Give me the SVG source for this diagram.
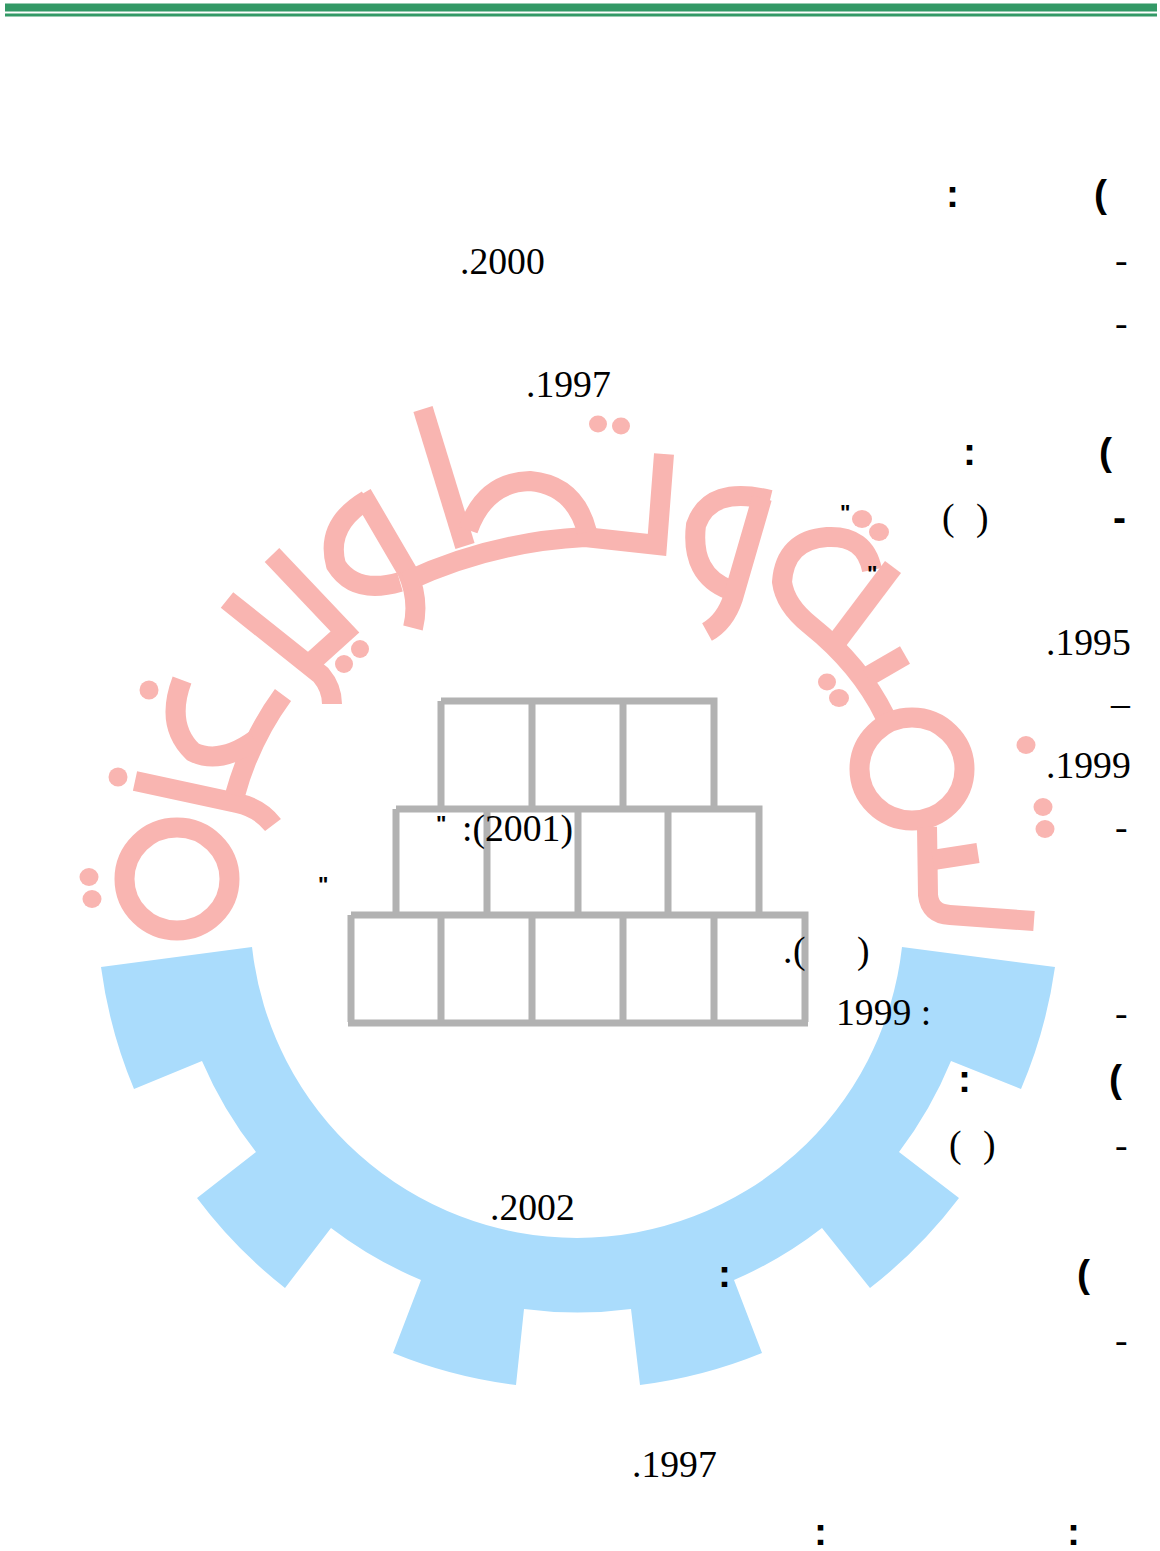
<svg xmlns="http://www.w3.org/2000/svg" width="1160" height="1551" viewBox="0 0 1160 1551">
<style>
text{font-family:"Liberation Serif","Times New Roman",serif;font-size:37.7px;fill:#000}
.b{font-family:"Liberation Sans",Arial,sans-serif;font-weight:bold;font-size:39px}
.q{font-family:"Liberation Sans",Arial,sans-serif;font-weight:bold;font-size:22px}
.p{fill:none;stroke:#f9b5b1;stroke-width:20}
.d{fill:#f9b5b1}
.w{fill:none;stroke:#b2b2b2;stroke-width:7}
</style>
<rect width="1160" height="1551" fill="#fff"/>
<g id="top-rule" fill="#339966"><rect x="5" y="3.5" width="1152" height="8"/><rect x="5" y="13.5" width="1152" height="3"/></g>
<g id="gear"><path fill="#aadcfc" d="M101,967 L252,947 A327,327 0 0 0 902,947 L1055,967 A481,481 0 0 1 1021,1089 L951,1061 A404,404 0 0 1 899,1152 L959,1198 A481,481 0 0 1 870,1288 L822,1228 A404,404 0 0 1 734,1280 L762,1353 A481,481 0 0 1 640,1385 L631,1309 A404,404 0 0 1 524,1309 L516,1385 A481,481 0 0 1 393,1353 L421,1280 A404,404 0 0 1 331,1228 L285,1288 A481,481 0 0 1 197,1198 L256,1152 A404,404 0 0 1 202,1061 L134,1089 A481,481 0 0 1 101,967 Z"/></g>
<g id="bricks">
<path class="w" d="M441,701H714V806M441,701V806M532,701V806M623,701V806"/>
<path class="w" d="M396,809H759V912M396,809V912M487,809V912M578,809V912M668,809V912"/>
<path class="w" d="M351,915H805V1022M351,915V1022M441,915V1022M532,915V1022M623,915V1022M714,915V1022"/>
<path fill="none" stroke="#b2b2b2" stroke-width="7" d="M348,1023H808"/>
</g>
<g id="calligraphy">
<ellipse class="p" cx="177" cy="879" rx="52.500" ry="51.500"/>
<path class="p" d="M135,781 L237,803 Q260,808 273,825"/>
<path class="p" d="M283,695 Q250,740 235,795"/>
<path class="p" d="M182,680 Q165,725 193,752 Q220,765 255,740"/>
<path class="p" d="M227,600 L321,675 Q332,688 332,704"/>
<path class="p" d="M272,555 L345,632 L305,668"/>
<path class="p" d="M367,500 Q325,525 336,565 Q355,595 400,582"/>
<path class="p" d="M362,494 L407,571 Q420,600 413,628"/>
<path class="p" d="M405,582 Q490,542 585,537 L657,545 L664,454"/>
<path class="p" d="M423,409 L465,546"/>
<path class="p" d="M468,530 Q485,482 530,481 Q575,485 587,532"/>
<path class="p" d="M770,500 Q710,485 696,525 Q690,575 730,590"/>
<path class="p" d="M762,498 L733,598 Q725,622 707,632"/>
<path class="p" d="M893,567 L838,640"/>
<path class="p" d="M872,570 Q865,535 827,537 Q785,540 782,582 Q785,605 810,625 Q860,665 885,716"/>
<path class="p" d="M905,655 L867,677"/>
<ellipse class="p" cx="912" cy="769" rx="52.500" ry="51.500"/>
<path class="p" d="M927,827 L928,895 Q930,914 950,915 L1034,921"/>
<path class="p" d="M978,853 L933,860"/>
<g class="d">
<ellipse cx="89" cy="877" rx="9.500" ry="9"/><ellipse cx="92" cy="899" rx="9.500" ry="9"/><ellipse cx="118" cy="777" rx="9.500" ry="9.500"/><ellipse cx="149" cy="690" rx="9.500" ry="9.500"/>
<ellipse cx="360" cy="649" rx="9" ry="9"/><ellipse cx="344" cy="664" rx="9" ry="9"/><ellipse cx="598" cy="424" rx="9" ry="8.500"/><ellipse cx="621" cy="426" rx="9" ry="8.500"/>
<ellipse cx="862" cy="519" rx="10" ry="9"/><ellipse cx="879" cy="532" rx="10" ry="9"/><ellipse cx="827" cy="682" rx="9" ry="8.500"/><ellipse cx="839" cy="698" rx="10" ry="9"/>
<ellipse cx="1026" cy="745" rx="9.500" ry="9"/><ellipse cx="1043" cy="807" rx="9.500" ry="9"/><ellipse cx="1045" cy="829" rx="9.500" ry="9"/>
</g>
</g>
<g id="text">
<text x="460" y="274">.2000</text>
<text x="526" y="397">.1997</text>
<text x="1046" y="655">.1995</text>
<text x="1046" y="778">.1999</text>
<text x="462" y="841">:(2001)</text>
<text x="490" y="1220">.2002</text>
<text x="836" y="1025">1999 :</text>
<text x="632" y="1477">.1997</text>
<text x="942 976" y="530">()</text>
<text x="949 983" y="1157">()</text>
<text x="783 793 857" y="963">.()</text>
<text x="1115" y="273">-</text>
<text x="1115" y="336">-</text>
<text x="1115" y="840">-</text>
<text x="1115" y="1026">-</text>
<text x="1115" y="1158">-</text>
<text x="1115" y="1353">-</text>
<text x="1111" y="716">–</text>
<text class="b" x="1113" y="531">-</text>
<text class="b" x="1094" y="207">(</text>
<text class="b" x="1099" y="465">(</text>
<text class="b" x="1109" y="1092">(</text>
<text class="b" x="1077" y="1287">(</text>
<text class="b" x="946" y="207">:</text>
<text class="b" x="963" y="465">:</text>
<text class="b" x="958" y="1092">:</text>
<text class="b" x="718" y="1287">:</text>
<text class="b" x="814" y="1545">:</text>
<text class="b" x="1067" y="1545">:</text>
<text class="q" x="840" y="520">"</text>
<text class="q" x="867" y="581">"</text>
<text class="q" x="436" y="831">"</text>
<text class="q" x="318" y="892">"</text>
</g>
</svg>
